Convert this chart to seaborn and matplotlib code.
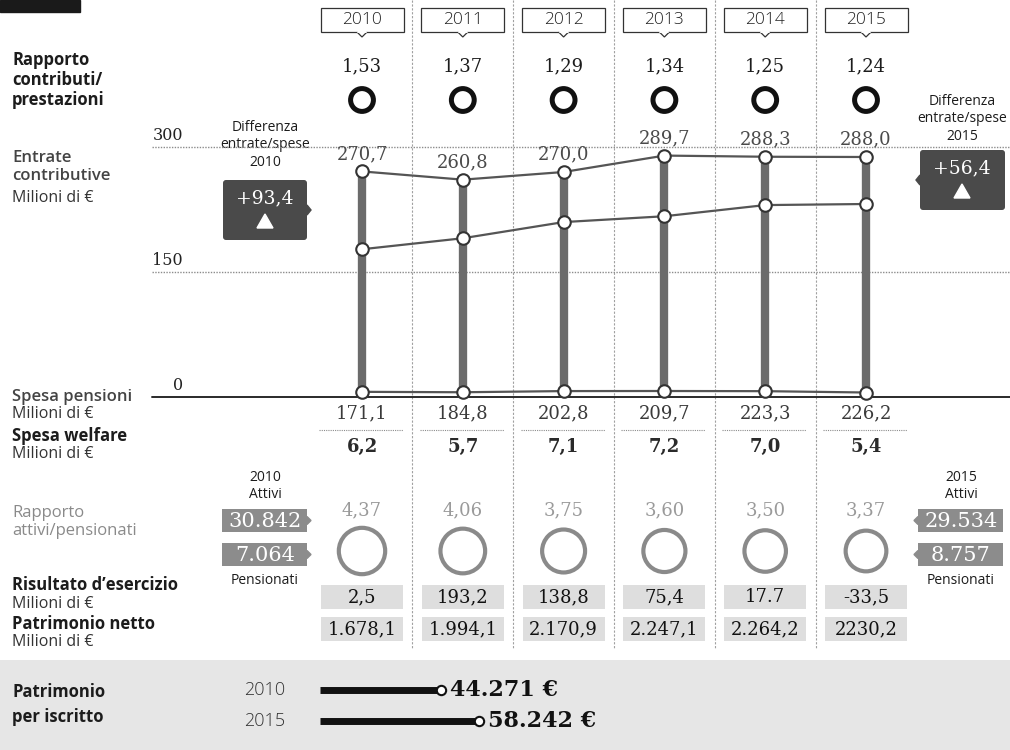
import numpy as np
import pandas as pd
import matplotlib
matplotlib.use("Agg")
import matplotlib.pyplot as plt
import seaborn as sns
from matplotlib.patches import Rectangle, Polygon, FancyBboxPatch
from matplotlib.transforms import blended_transform_factory

# ---------------------------------------------------------------- data
years = [2010, 2011, 2012, 2013, 2014, 2015]
rapporto_contributi = [1.53, 1.37, 1.29, 1.34, 1.25, 1.24]
entrate = [270.7, 260.8, 270.0, 289.7, 288.3, 288.0]
spesa_pensioni = [171.1, 184.8, 202.8, 209.7, 223.3, 226.2]
spesa_welfare = [6.2, 5.7, 7.1, 7.2, 7.0, 5.4]
rapporto_attivi = [4.37, 4.06, 3.75, 3.60, 3.50, 3.37]
attivi_estremi = [30842, 29534]
pensionati_estremi = [7064, 8757]
risultato_labels = ["2,5", "193,2", "138,8", "75,4", "17.7", "-33,5"]
patrimonio_labels = ["1.678,1", "1.994,1", "2.170,9", "2.247,1", "2.264,2", "2230,2"]
asse_ticks = [0, 150, 300]
patrimonio_anni = [2010, 2015]
patrimonio_iscritto = [44271, 58242]

# ---------------------------------------------------------------- style
sns.set_theme(style="white")
SANS = ["Open Sans", "DejaVu Sans"]
SERIF = ["DejaVu Serif"]
plt.rcParams["font.family"] = SANS


def it1(v):
    return f"{v:.1f}".replace(".", ",")


def it2(v):
    return f"{v:.2f}".replace(".", ",")


def migliaia(v):
    return f"{v:,}".replace(",", ".")


df = pd.DataFrame({
    "anno": years,
    "i": np.arange(len(years)),
    "entrate": entrate,
    "pensioni": spesa_pensioni,
    "welfare": spesa_welfare,
})
df["spese"] = df["pensioni"] + df["welfare"]

W, H = 1010, 750
fig = plt.figure(figsize=(W / 100, H / 100), dpi=100)
fig.patch.set_facecolor("white")

# layout canvas in pixel units (y downwards)
ax = fig.add_axes([0, 0, 1, 1])
ax.set_xlim(0, W)
ax.set_ylim(H, 0)
ax.axis("off")

# chart axes: x = year index, y = milioni di euro
X0, STEP = 362, 100.8
axc = fig.add_axes([0, 1 - 400 / H, 1, 260 / H])
axc.set_xlim(-X0 / STEP, (W - X0) / STEP)
axc.set_ylim(-3.6, 308.4)
axc.axis("off")
axc.patch.set_alpha(0)

col = blended_transform_factory(axc.transData, ax.transData)
idx = df["i"].to_numpy()
U = 1 / STEP  # one pixel in column units

DARK = "#1c1c1c"
GREY = "#5a5a5a"

# top-left tag
ax.add_patch(Rectangle((0, 0), 80, 12, color="#1a1a1a"))

# column dividers
for i in idx[:-1]:
    ax.plot([i + 0.5, i + 0.5], [0, 648], transform=col, color="#a0a0a0",
            lw=0.8, ls=(0, (2, 1.5)), zorder=1)

# year boxes
for i, y in zip(idx, years):
    ax.add_patch(Rectangle((i - 41.5 * U, 8), 83 * U, 24, transform=col,
                           facecolor="white", edgecolor="#333", lw=0.9, zorder=3))
    ax.add_patch(Polygon([(i - 5 * U, 32), (i, 37), (i + 5 * U, 32)], closed=False,
                         transform=col, facecolor="white", edgecolor="#333",
                         lw=0.9, zorder=4))
    ax.plot([i - 4 * U, i + 4 * U], [32, 32], transform=col, color="white",
            lw=1.4, zorder=5)
    ax.text(i, 20.5, str(y), transform=col, ha="center", va="center",
            fontsize=12.5, fontweight="light", color="#222", zorder=6)

# left-hand row labels
def label(y, s, weight="normal", color=DARK, size=12):
    ax.text(12, y, s, ha="left", va="center", fontsize=size,
            fontweight=weight, color=color, linespacing=1.15)

label(80, "Rapporto\ncontributi/\nprestazioni", "bold")
label(167, "Entrate\ncontributive", "semibold", "#444")
label(198, "Milioni di €", size=11.5, color="#333")
label(397, "Spesa pensioni", "semibold", "#444")
label(414, "Milioni di €", size=11.5, color="#333")
label(436, "Spesa welfare", "bold")
label(454, "Milioni di €", size=11.5, color="#333")
label(522, "Rapporto\nattivi/pensionati", color="#8a8a8a")
label(585, "Risultato d’esercizio", "bold")
label(604, "Milioni di €", size=11.5, color="#333")
label(624, "Patrimonio netto", "bold")
label(642, "Milioni di €", size=11.5, color="#333")

# rapporto contributi/prestazioni
for i, v in zip(idx, rapporto_contributi):
    ax.text(i, 66, it2(v), transform=col, ha="center", va="center",
            family=SERIF, fontsize=13, color=DARK)
ax.scatter(idx, [100] * len(idx), s=270, facecolors="none", edgecolors="#111",
           linewidths=3.6, transform=col, clip_on=False, zorder=4)

# ---------------------------------------------------------------- chart
axtr = blended_transform_factory(axc.transAxes, axc.transData)
for t in asse_ticks:
    if t == 0:
        axc.axhline(t, xmin=152 / W, xmax=1, color="#2a2a2a", lw=1.4, zorder=1)
    else:
        axc.axhline(t, xmin=152 / W, xmax=1, color="#8c8c8c", lw=1,
                    ls=(0, (1, 1)), zorder=1)
    axc.annotate(str(t), xy=(183 / W, t), xycoords=axtr, xytext=(0, 5),
                 textcoords="offset points", ha="right", va="baseline",
                 family=SERIF, fontsize=11.5, color="#222")

axc.vlines(df["i"], 0, df["entrate"], color="#6b6b6b", lw=6, zorder=2)

marker_kw = dict(marker="o", markersize=9, markerfacecolor="white",
                 markeredgecolor="#333", markeredgewidth=1.5,
                 color="#555", lw=1.6, zorder=4)
for ycol in ["entrate", "spese", "welfare"]:
    sns.lineplot(data=df, x="i", y=ycol, ax=axc, **marker_kw)
axc.set_xlim(-X0 / STEP, (W - X0) / STEP)
axc.set_ylim(-3.6, 308.4)
axc.axis("off")

for i, v in zip(idx, entrate):
    axc.annotate(it1(v), xy=(i, v), xytext=(0, 9), textcoords="offset points",
                 ha="center", va="baseline", family=SERIF, fontsize=13,
                 color="#4a4a4a")

# spesa pensioni / welfare values
for i, p, w in zip(idx, spesa_pensioni, spesa_welfare):
    ax.text(i, 413, it1(p), transform=col, ha="center", va="center",
            family=SERIF, fontsize=13, color="#3a3a3a")
    ax.plot([i - 43 * U, i + 41 * U], [430, 430], transform=col,
            color="#8c8c8c", lw=0.8, ls=(0, (1, 1)))
    ax.text(i, 447, it1(w), transform=col, ha="center", va="center",
            family=SERIF, fontsize=13, fontweight="bold", color="#2a2a2a")

# differenza entrate/spese boxes
diff = (df["entrate"] - df["spese"]).round(1).tolist()


def diff_box(cx, x0, y0, w, h, value, side):
    ax.add_patch(FancyBboxPatch((x0, y0), w, h,
                                boxstyle="round,pad=0,rounding_size=3",
                                facecolor="#4a4a4a", edgecolor="none"))
    my = y0 + h / 2
    if side == "right":
        ax.add_patch(Polygon([(x0 + w, my - 5), (x0 + w + 4, my), (x0 + w, my + 5)],
                             color="#4a4a4a"))
    else:
        ax.add_patch(Polygon([(x0, my - 5), (x0 - 4, my), (x0, my + 5)],
                             color="#4a4a4a"))
    ax.text(cx, y0 + 18, f"+{it1(value)}", ha="center", va="center",
            family=SERIF, fontsize=13.5, color="white")
    ax.add_patch(Polygon([(cx - 8, y0 + 48), (cx + 8, y0 + 48), (cx, y0 + 34)],
                         color="white"))


ax.text(265, 145, f"Differenza\nentrate/spese\n{years[0]}", ha="center",
        va="center", fontsize=10, color=DARK, linespacing=1.25)
diff_box(265, 223, 180, 84, 60, diff[0], "right")
ax.text(962, 119, f"Differenza\nentrate/spese\n{years[-1]}", ha="center",
        va="center", fontsize=10, color=DARK, linespacing=1.25)
diff_box(962, 920, 150, 85, 60, diff[-1], "left")

# ---------------------------------------------------------------- attivi / pensionati
for i, v in zip(idx, rapporto_attivi):
    ax.text(i, 510, it2(v), transform=col, ha="center", va="center",
            family=SERIF, fontsize=13, color="#9a9a9a")
ax.scatter(idx, [551] * len(idx), s=[v * 255 for v in rapporto_attivi],
           facecolors="none", edgecolors="#8a8a8a", linewidths=3,
           transform=col, clip_on=False, zorder=4)


def people_box(cx, x0, y0, value, side):
    w, h = 85, 23
    ax.add_patch(Rectangle((x0, y0), w, h, facecolor="#8c8c8c", edgecolor="none"))
    my = y0 + h / 2
    if side == "right":
        ax.add_patch(Polygon([(x0 + w, my - 4), (x0 + w + 4, my), (x0 + w, my + 4)],
                             color="#8c8c8c"))
    else:
        ax.add_patch(Polygon([(x0, my - 4), (x0 - 4, my), (x0, my + 4)],
                             color="#8c8c8c"))
    ax.text(cx, my + 1, migliaia(value), ha="center", va="center",
            family=SERIF, fontsize=15, color="white")


for cx, x0, side, yr, a, p in [(265, 222, "right", years[0], attivi_estremi[0], pensionati_estremi[0]),
                               (961, 918, "left", years[-1], attivi_estremi[1], pensionati_estremi[1])]:
    ax.text(cx, 486, f"{yr}\nAttivi", ha="center", va="center", fontsize=10,
            color=DARK, linespacing=1.2)
    people_box(cx, x0, 509, a, side)
    people_box(cx, x0, 543, p, side)
    ax.text(cx, 581, "Pensionati", ha="center", va="center", fontsize=10,
            color=DARK)

# risultato d'esercizio / patrimonio netto
for i, r, p in zip(idx, risultato_labels, patrimonio_labels):
    for y0, s in [(585, r), (617, p)]:
        ax.add_patch(Rectangle((i - 41 * U, y0), 82 * U, 24, transform=col,
                               facecolor="#dedede", edgecolor="none"))
        ax.text(i, y0 + 12.5, s, transform=col, ha="center", va="center",
                family=SERIF, fontsize=13, color="#111")

# ---------------------------------------------------------------- patrimonio per iscritto
ax.add_patch(Rectangle((0, 660), W, 90, facecolor="#e6e6e6", edgecolor="none"))
ax.text(12, 692, "Patrimonio", ha="left", va="center", fontsize=12,
        fontweight="bold", color=DARK)
ax.text(12, 717, "per iscritto", ha="left", va="center", fontsize=12,
        fontweight="bold", color=DARK)

axp = fig.add_axes([320 / W, 0, (W - 320) / W, 1])
axp.set_xlim(0, (W - 320) / 0.002722)
axp.set_ylim(H, 0)
axp.axis("off")
axp.patch.set_alpha(0)
rows_y = [690, 721]
for yr, v, y in zip(patrimonio_anni, patrimonio_iscritto, rows_y):
    ax.text(265, y, str(yr), ha="center", va="center", fontsize=13,
            fontweight="light", color="#333")
    axp.hlines(y, 0, v, color="#111", lw=5, zorder=2)
    axp.scatter([v], [y], s=45, facecolors="white", edgecolors="#111",
                linewidths=1.5, zorder=3)
    axp.annotate(f"{migliaia(v)} €", xy=(v, y), xytext=(7, 0),
                 textcoords="offset points", ha="left", va="center",
                 family=SERIF, fontsize=16, fontweight="bold", color="#111")

fig.savefig("out.png", dpi=100)
